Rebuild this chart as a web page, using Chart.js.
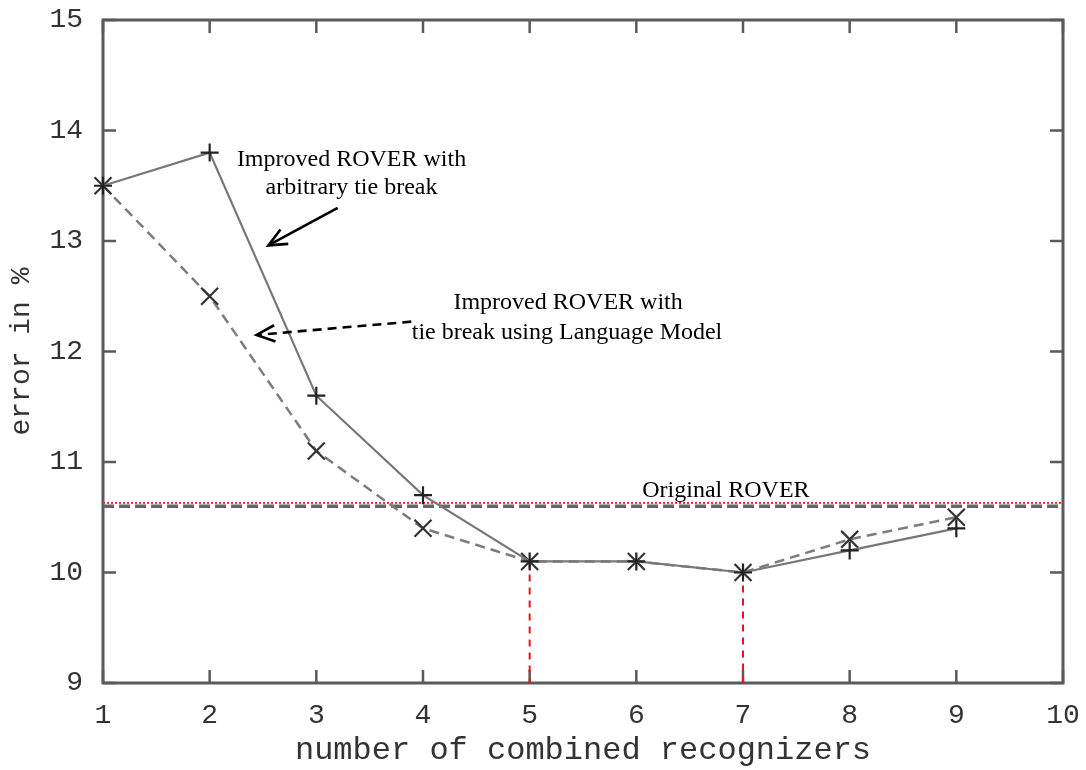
<!DOCTYPE html>
<html>
<head>
<meta charset="utf-8">
<script src="https://cdn.jsdelivr.net/npm/chart.js@4.4.1/dist/chart.umd.min.js"></script>
<style>
  html, body { margin: 0; padding: 0; background: #ffffff; }
  #wrap { width: 1086px; height: 770px; position: relative; }
</style>
</head>
<body>
<div id="wrap"><canvas id="c" width="1086" height="770"></canvas></div>
<script>
// ---- data ----
const recognizers = [1, 2, 3, 4, 5, 6, 7, 8, 9];
const arbitraryTieBreak = [13.5, 13.8, 11.6, 10.7, 10.1, 10.1, 10.0, 10.2, 10.4];
const languageModelTieBreak = [13.5, 12.5, 11.1, 10.4, 10.1, 10.1, 10.0, 10.3, 10.5];
const originalRover = 10.6;
const originalRoverMarker = 10.63;
const xRange = [1, 10];
const yRange = [9, 15];
const bestCounts = [5, 7];
const bestErrors = [10.1, 10.0];
const xTickLabels = ['1', '2', '3', '4', '5', '6', '7', '8', '9', '10'];
const yTickLabels = ['9', '10', '11', '12', '13', '14', '15'];

const toPoints = (xs, ys) => xs.map((x, i) => ({ x: x, y: ys[i] }));

const frameTicksPlugin = {
  id: 'frameTicks',
  beforeDatasetsDraw(chart) {
    const { ctx, chartArea: a, scales } = chart;
    const xs = scales.x, ys = scales.y;
    const len = 13;
    ctx.save();
    ctx.strokeStyle = '#5a5a5a';
    ctx.lineWidth = 3;
    ctx.beginPath();
    ctx.rect(a.left, a.top, a.right - a.left, a.bottom - a.top);
    ctx.stroke();
    ctx.lineWidth = 2.5;
    ctx.beginPath();
    xTickLabels.forEach(t => {
      const px = xs.getPixelForValue(Number(t));
      ctx.moveTo(px, a.bottom); ctx.lineTo(px, a.bottom - len);
      ctx.moveTo(px, a.top); ctx.lineTo(px, a.top + len);
    });
    yTickLabels.forEach(t => {
      const py = ys.getPixelForValue(Number(t));
      ctx.moveTo(a.left, py); ctx.lineTo(a.left + len, py);
      ctx.moveTo(a.right, py); ctx.lineTo(a.right - len, py);
    });
    ctx.stroke();
    ctx.restore();
  }
};

function arrow(ctx, x1, y1, x2, y2, dashed) {
  const ang = Math.atan2(y2 - y1, x2 - x1);
  const head = 20, spread = 0.42;
  ctx.save();
  ctx.strokeStyle = '#000';
  ctx.lineWidth = 2.6;
  ctx.setLineDash(dashed ? [9, 6] : []);
  ctx.beginPath();
  ctx.moveTo(x1, y1); ctx.lineTo(x2, y2);
  ctx.stroke();
  ctx.setLineDash([]);
  ctx.beginPath();
  ctx.moveTo(x2 - head * Math.cos(ang - spread), y2 - head * Math.sin(ang - spread));
  ctx.lineTo(x2, y2);
  ctx.lineTo(x2 - head * Math.cos(ang + spread), y2 - head * Math.sin(ang + spread));
  ctx.stroke();
  ctx.restore();
}

const annotationPlugin = {
  id: 'annotations',
  afterDatasetsDraw(chart) {
    const { ctx, scales } = chart;
    const X = v => scales.x.getPixelForValue(v);
    const Y = v => scales.y.getPixelForValue(v);
    ctx.save();
    ctx.fillStyle = '#000';
    ctx.font = '24px "Liberation Serif", "Times New Roman", serif';
    ctx.textAlign = 'center';
    ctx.textBaseline = 'middle';
    ctx.fillText('Improved ROVER with', X(3.33), Y(13.74));
    ctx.fillText('arbitrary tie break', X(3.33), Y(13.48));
    ctx.fillText('Improved ROVER with', X(5.36), Y(12.44));
    ctx.fillText('tie break using Language Model', X(5.35), Y(12.17));
    ctx.fillText('Original ROVER', X(6.84), Y(10.74));
    ctx.restore();
    arrow(ctx, X(3.20), Y(13.30), X(2.55), Y(12.96), false);
    arrow(ctx, X(3.89), Y(12.27), X(2.44), Y(12.15), true);
  }
};

new Chart(document.getElementById('c'), {
  type: 'line',
  data: {
    datasets: [
      {
        label: 'best 5',
        data: toPoints([bestCounts[0], bestCounts[0]], [bestErrors[0], yRange[0]]),
        borderColor: '#e8141c', borderWidth: 2, borderDash: [7, 6],
        pointRadius: 0, clip: false, order: 5
      },
      {
        label: 'best 7',
        data: toPoints([bestCounts[1], bestCounts[1]], [bestErrors[1], yRange[0]]),
        borderColor: '#e8141c', borderWidth: 2, borderDash: [7, 6],
        pointRadius: 0, clip: false, order: 5
      },
      {
        label: 'Original ROVER',
        data: toPoints(xRange, [originalRover, originalRover]),
        borderColor: '#666666', borderWidth: 3.5, borderDash: [11, 5],
        pointRadius: 0, clip: false, order: 4
      },
      {
        label: 'Original ROVER marker',
        data: toPoints(xRange, [originalRoverMarker, originalRoverMarker]),
        borderColor: '#ee2a2a', borderWidth: 2, borderDash: [2, 2],
        pointRadius: 0, clip: false, order: 3
      },
      {
        label: 'Improved ROVER with tie break using Language Model',
        data: toPoints(recognizers, languageModelTieBreak),
        borderColor: '#7d7d7d', borderWidth: 2.5, borderDash: [10, 6],
        pointStyle: 'crossRot', pointRadius: 12, pointBorderWidth: 2.2,
        pointBorderColor: '#333333', pointBackgroundColor: '#333333',
        tension: 0, clip: false, order: 2
      },
      {
        label: 'Improved ROVER with arbitrary tie break',
        data: toPoints(recognizers, arbitraryTieBreak),
        borderColor: '#777777', borderWidth: 2.2,
        pointStyle: 'cross', pointRadius: 9, pointBorderWidth: 2.2,
        pointBorderColor: '#222222', pointBackgroundColor: '#222222',
        tension: 0, clip: false, order: 1
      }
    ]
  },
  options: {
    responsive: false,
    animation: false,
    events: [],
    layout: { padding: { top: 20, right: 23, left: 0, bottom: 0 } },
    plugins: { legend: { display: false }, tooltip: { enabled: false } },
    scales: {
      x: {
        type: 'linear', min: xRange[0], max: xRange[1],
        afterBuildTicks: s => { s.ticks = xTickLabels.map(t => ({ value: Number(t) })); },
        ticks: {
          callback: v => String(v), padding: 16, maxRotation: 0, autoSkip: false,
          color: '#333333', font: { family: '"Liberation Mono", "Courier New", monospace', size: 28 }
        },
        grid: { display: false, drawTicks: false },
        border: { display: false },
        title: {
          display: true, text: 'number of combined recognizers', color: '#333333',
          font: { family: '"Liberation Mono", "Courier New", monospace', size: 32 },
          padding: { top: 0, bottom: 0 }
        },
        afterFit: s => { s.height = 87; s.paddingLeft = 0; s.paddingRight = 0; }
      },
      y: {
        type: 'linear', min: yRange[0], max: yRange[1],
        afterBuildTicks: s => { s.ticks = yTickLabels.map(t => ({ value: Number(t) })); },
        ticks: {
          callback: v => String(v), padding: 20, autoSkip: false,
          color: '#333333', font: { family: '"Liberation Mono", "Courier New", monospace', size: 28 }
        },
        grid: { display: false, drawTicks: false },
        border: { display: false },
        title: {
          display: true, text: 'error in %', color: '#333333',
          font: { family: '"Liberation Mono", "Courier New", monospace', size: 28 },
          padding: { top: 5, bottom: 0 }
        },
        afterFit: s => { s.width = 103; s.paddingTop = 0; s.paddingBottom = 0; }
      }
    }
  },
  plugins: [frameTicksPlugin, annotationPlugin]
});
</script>
</body>
</html>
